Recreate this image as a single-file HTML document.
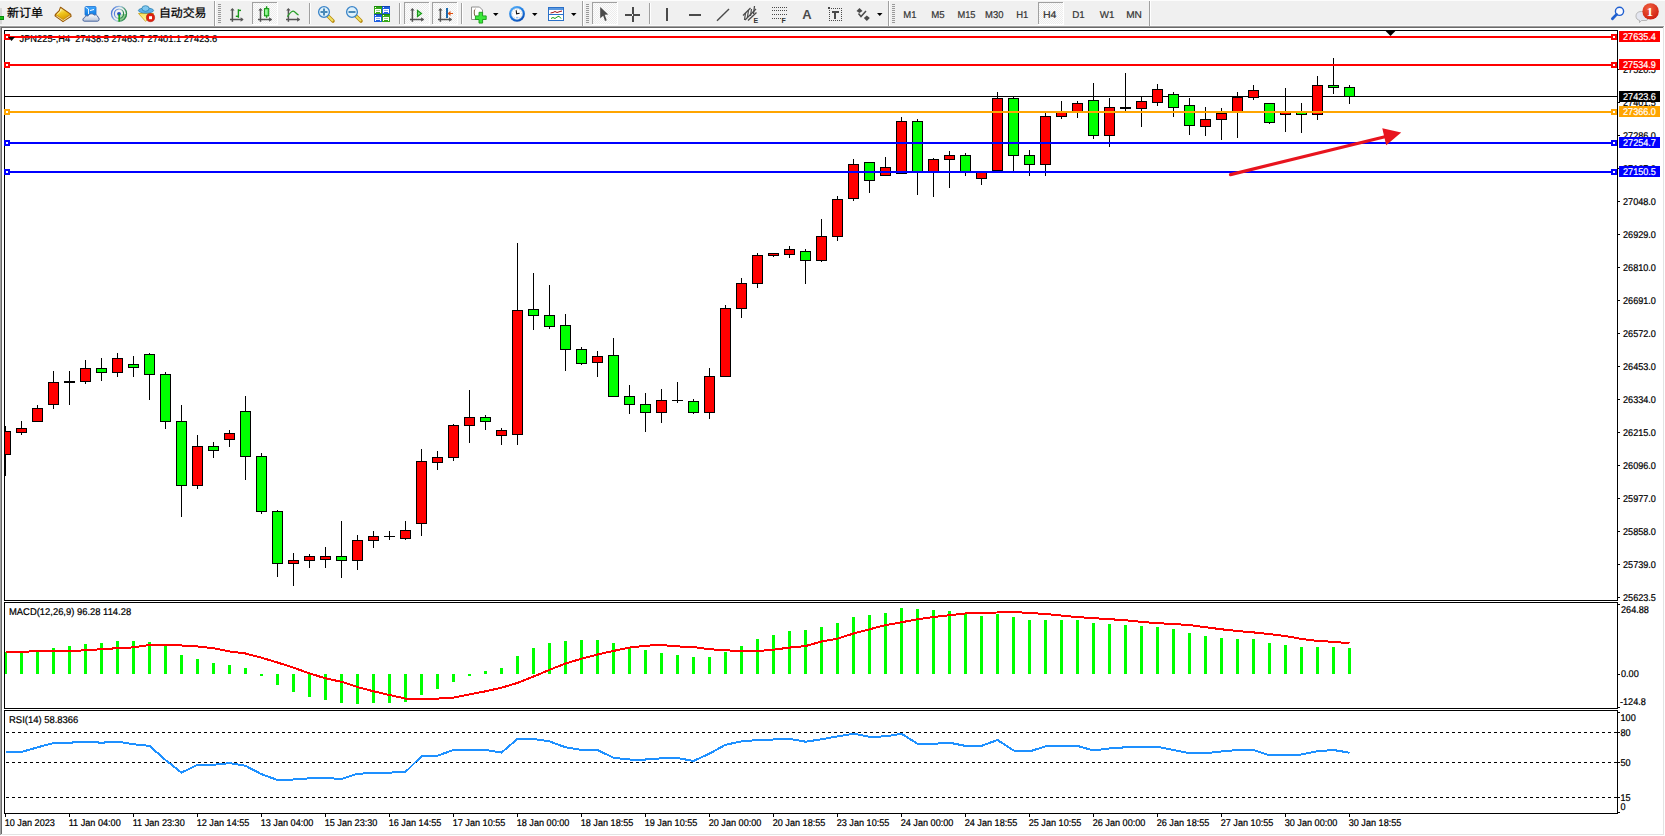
<!DOCTYPE html>
<html><head><meta charset="utf-8"><title>MT4</title>
<style>
html,body{margin:0;padding:0;}
body{width:1665px;height:836px;overflow:hidden;position:relative;background:#fff;}
#c{position:absolute;left:0;top:0;}
</style></head><body>
<svg id="c" width="1665" height="836" viewBox="0 0 1665 836" shape-rendering="crispEdges"><defs><clipPath id="cm"><rect x="5" y="31" width="1612" height="569"/></clipPath><clipPath id="cd"><rect x="5" y="603" width="1612" height="105"/></clipPath><clipPath id="cr"><rect x="5" y="711" width="1612" height="102"/></clipPath></defs><rect x="0" y="26" width="1665" height="810" fill="#fff"/><rect x="0" y="26" width="1664" height="1" fill="#a0a0a0"/><rect x="0" y="26" width="1" height="809" fill="#a0a0a0"/><rect x="1" y="27" width="1662" height="1" fill="#696969"/><rect x="1" y="27" width="1" height="807" fill="#696969"/><rect x="1663" y="27" width="1" height="808" fill="#e3e3e3"/><rect x="1" y="834" width="1663" height="1" fill="#e3e3e3"/><rect x="4.5" y="30.5" width="1613" height="570" fill="none" stroke="#000" stroke-width="1"/><rect x="4.5" y="602.5" width="1613" height="106" fill="none" stroke="#000" stroke-width="1"/><rect x="4.5" y="710.5" width="1613" height="103" fill="none" stroke="#000" stroke-width="1"/><text transform="translate(19.5,41.5) scale(0.948,1)" style="font-family:'Liberation Sans', sans-serif;font-size:9.8px;fill:#000;stroke:#000;stroke-width:0.22px;text-rendering:geometricPrecision" shape-rendering="geometricPrecision">JPN225-,H4&#160; 27438.5 27463.7 27401.1 27423.6</text><g clip-path="url(#cm)"><rect x="5" y="96" width="1612" height="1" fill="#000"/><rect x="5" y="426" width="1" height="50" fill="#000"/><rect x="0.5" y="431.5" width="10" height="23" fill="#ff0000" stroke="#000" stroke-width="1"/><rect x="21" y="421" width="1" height="14" fill="#000"/><rect x="16.5" y="428.5" width="10" height="4" fill="#ff0000" stroke="#000" stroke-width="1"/><rect x="37" y="405" width="1" height="17" fill="#000"/><rect x="32.5" y="408.5" width="10" height="13" fill="#ff0000" stroke="#000" stroke-width="1"/><rect x="53" y="371" width="1" height="38" fill="#000"/><rect x="48.5" y="382.5" width="10" height="22" fill="#ff0000" stroke="#000" stroke-width="1"/><rect x="69" y="371" width="1" height="34" fill="#000"/><rect x="64" y="381" width="11" height="2" fill="#000"/><rect x="85" y="360" width="1" height="24" fill="#000"/><rect x="80.5" y="368.5" width="10" height="13" fill="#ff0000" stroke="#000" stroke-width="1"/><rect x="101" y="358" width="1" height="23" fill="#000"/><rect x="96.5" y="368.5" width="10" height="4" fill="#00ff00" stroke="#000" stroke-width="1"/><rect x="117" y="353" width="1" height="24" fill="#000"/><rect x="112.5" y="358.5" width="10" height="14" fill="#ff0000" stroke="#000" stroke-width="1"/><rect x="133" y="356" width="1" height="21" fill="#000"/><rect x="128.5" y="364.5" width="10" height="3" fill="#00ff00" stroke="#000" stroke-width="1"/><rect x="149" y="353" width="1" height="47" fill="#000"/><rect x="144.5" y="354.5" width="10" height="20" fill="#00ff00" stroke="#000" stroke-width="1"/><rect x="165" y="372" width="1" height="57" fill="#000"/><rect x="160.5" y="374.5" width="10" height="47" fill="#00ff00" stroke="#000" stroke-width="1"/><rect x="181" y="405" width="1" height="112" fill="#000"/><rect x="176.5" y="421.5" width="10" height="64" fill="#00ff00" stroke="#000" stroke-width="1"/><rect x="197" y="435" width="1" height="54" fill="#000"/><rect x="192.5" y="446.5" width="10" height="39" fill="#ff0000" stroke="#000" stroke-width="1"/><rect x="213" y="442" width="1" height="16" fill="#000"/><rect x="208.5" y="446.5" width="10" height="4" fill="#00ff00" stroke="#000" stroke-width="1"/><rect x="229" y="430" width="1" height="17" fill="#000"/><rect x="224.5" y="433.5" width="10" height="6" fill="#ff0000" stroke="#000" stroke-width="1"/><rect x="245" y="396" width="1" height="84" fill="#000"/><rect x="240.5" y="411.5" width="10" height="45" fill="#00ff00" stroke="#000" stroke-width="1"/><rect x="261" y="453" width="1" height="61" fill="#000"/><rect x="256.5" y="456.5" width="10" height="55" fill="#00ff00" stroke="#000" stroke-width="1"/><rect x="277" y="510" width="1" height="67" fill="#000"/><rect x="272.5" y="511.5" width="10" height="52" fill="#00ff00" stroke="#000" stroke-width="1"/><rect x="293" y="553" width="1" height="33" fill="#000"/><rect x="288.5" y="560.5" width="10" height="3" fill="#ff0000" stroke="#000" stroke-width="1"/><rect x="309" y="554" width="1" height="14" fill="#000"/><rect x="304.5" y="556.5" width="10" height="4" fill="#ff0000" stroke="#000" stroke-width="1"/><rect x="325" y="547" width="1" height="21" fill="#000"/><rect x="320.5" y="556.5" width="10" height="3" fill="#ff0000" stroke="#000" stroke-width="1"/><rect x="341" y="521" width="1" height="57" fill="#000"/><rect x="336.5" y="556.5" width="10" height="4" fill="#00ff00" stroke="#000" stroke-width="1"/><rect x="357" y="535" width="1" height="35" fill="#000"/><rect x="352.5" y="540.5" width="10" height="20" fill="#ff0000" stroke="#000" stroke-width="1"/><rect x="373" y="531" width="1" height="17" fill="#000"/><rect x="368.5" y="536.5" width="10" height="4" fill="#ff0000" stroke="#000" stroke-width="1"/><rect x="389" y="531" width="1" height="9" fill="#000"/><rect x="384" y="536" width="11" height="1" fill="#000"/><rect x="405" y="521" width="1" height="19" fill="#000"/><rect x="400.5" y="530.5" width="10" height="8" fill="#ff0000" stroke="#000" stroke-width="1"/><rect x="421" y="449" width="1" height="87" fill="#000"/><rect x="416.5" y="461.5" width="10" height="62" fill="#ff0000" stroke="#000" stroke-width="1"/><rect x="437" y="451" width="1" height="19" fill="#000"/><rect x="432.5" y="457.5" width="10" height="5" fill="#ff0000" stroke="#000" stroke-width="1"/><rect x="453" y="424" width="1" height="37" fill="#000"/><rect x="448.5" y="425.5" width="10" height="32" fill="#ff0000" stroke="#000" stroke-width="1"/><rect x="469" y="390" width="1" height="53" fill="#000"/><rect x="464.5" y="417.5" width="10" height="8" fill="#ff0000" stroke="#000" stroke-width="1"/><rect x="485" y="415" width="1" height="15" fill="#000"/><rect x="480.5" y="417.5" width="10" height="4" fill="#00ff00" stroke="#000" stroke-width="1"/><rect x="501" y="428" width="1" height="17" fill="#000"/><rect x="496.5" y="430.5" width="10" height="5" fill="#ff0000" stroke="#000" stroke-width="1"/><rect x="517" y="243" width="1" height="202" fill="#000"/><rect x="512.5" y="310.5" width="10" height="124" fill="#ff0000" stroke="#000" stroke-width="1"/><rect x="533" y="273" width="1" height="57" fill="#000"/><rect x="528.5" y="309.5" width="10" height="6" fill="#00ff00" stroke="#000" stroke-width="1"/><rect x="549" y="285" width="1" height="44" fill="#000"/><rect x="544.5" y="315.5" width="10" height="11" fill="#00ff00" stroke="#000" stroke-width="1"/><rect x="565" y="314" width="1" height="57" fill="#000"/><rect x="560.5" y="325.5" width="10" height="24" fill="#00ff00" stroke="#000" stroke-width="1"/><rect x="581" y="347" width="1" height="18" fill="#000"/><rect x="576.5" y="349.5" width="10" height="14" fill="#00ff00" stroke="#000" stroke-width="1"/><rect x="597" y="351" width="1" height="26" fill="#000"/><rect x="592.5" y="356.5" width="10" height="6" fill="#ff0000" stroke="#000" stroke-width="1"/><rect x="613" y="338" width="1" height="58" fill="#000"/><rect x="608.5" y="355.5" width="10" height="41" fill="#00ff00" stroke="#000" stroke-width="1"/><rect x="629" y="385" width="1" height="29" fill="#000"/><rect x="624.5" y="396.5" width="10" height="8" fill="#00ff00" stroke="#000" stroke-width="1"/><rect x="645" y="393" width="1" height="39" fill="#000"/><rect x="640.5" y="404.5" width="10" height="8" fill="#00ff00" stroke="#000" stroke-width="1"/><rect x="661" y="389" width="1" height="34" fill="#000"/><rect x="656.5" y="400.5" width="10" height="12" fill="#ff0000" stroke="#000" stroke-width="1"/><rect x="677" y="382" width="1" height="21" fill="#000"/><rect x="672" y="400" width="11" height="1" fill="#000"/><rect x="693" y="399" width="1" height="15" fill="#000"/><rect x="688.5" y="401.5" width="10" height="11" fill="#00ff00" stroke="#000" stroke-width="1"/><rect x="709" y="368" width="1" height="51" fill="#000"/><rect x="704.5" y="376.5" width="10" height="36" fill="#ff0000" stroke="#000" stroke-width="1"/><rect x="725" y="305" width="1" height="71" fill="#000"/><rect x="720.5" y="308.5" width="10" height="68" fill="#ff0000" stroke="#000" stroke-width="1"/><rect x="741" y="278" width="1" height="40" fill="#000"/><rect x="736.5" y="283.5" width="10" height="25" fill="#ff0000" stroke="#000" stroke-width="1"/><rect x="757" y="253" width="1" height="35" fill="#000"/><rect x="752.5" y="255.5" width="10" height="28" fill="#ff0000" stroke="#000" stroke-width="1"/><rect x="773" y="253" width="1" height="4" fill="#000"/><rect x="768.5" y="253.5" width="10" height="2" fill="#ff0000" stroke="#000" stroke-width="1"/><rect x="789" y="246" width="1" height="12" fill="#000"/><rect x="784.5" y="249.5" width="10" height="5" fill="#ff0000" stroke="#000" stroke-width="1"/><rect x="805" y="249" width="1" height="35" fill="#000"/><rect x="800.5" y="251.5" width="10" height="9" fill="#00ff00" stroke="#000" stroke-width="1"/><rect x="821" y="219" width="1" height="43" fill="#000"/><rect x="816.5" y="236.5" width="10" height="24" fill="#ff0000" stroke="#000" stroke-width="1"/><rect x="837" y="196" width="1" height="45" fill="#000"/><rect x="832.5" y="199.5" width="10" height="37" fill="#ff0000" stroke="#000" stroke-width="1"/><rect x="853" y="159" width="1" height="42" fill="#000"/><rect x="848.5" y="164.5" width="10" height="34" fill="#ff0000" stroke="#000" stroke-width="1"/><rect x="869" y="162" width="1" height="31" fill="#000"/><rect x="864.5" y="162.5" width="10" height="18" fill="#00ff00" stroke="#000" stroke-width="1"/><rect x="885" y="157" width="1" height="18" fill="#000"/><rect x="880.5" y="167.5" width="10" height="8" fill="#ff0000" stroke="#000" stroke-width="1"/><rect x="901" y="117" width="1" height="56" fill="#000"/><rect x="896.5" y="121.5" width="10" height="52" fill="#ff0000" stroke="#000" stroke-width="1"/><rect x="917" y="119" width="1" height="76" fill="#000"/><rect x="912.5" y="121.5" width="10" height="50" fill="#00ff00" stroke="#000" stroke-width="1"/><rect x="933" y="158" width="1" height="39" fill="#000"/><rect x="928.5" y="159.5" width="10" height="12" fill="#ff0000" stroke="#000" stroke-width="1"/><rect x="949" y="151" width="1" height="37" fill="#000"/><rect x="944.5" y="155.5" width="10" height="4" fill="#ff0000" stroke="#000" stroke-width="1"/><rect x="965" y="153" width="1" height="23" fill="#000"/><rect x="960.5" y="155.5" width="10" height="16" fill="#00ff00" stroke="#000" stroke-width="1"/><rect x="981" y="172" width="1" height="13" fill="#000"/><rect x="976.5" y="172.5" width="10" height="6" fill="#ff0000" stroke="#000" stroke-width="1"/><rect x="997" y="92" width="1" height="78" fill="#000"/><rect x="992.5" y="98.5" width="10" height="72" fill="#ff0000" stroke="#000" stroke-width="1"/><rect x="1013" y="97" width="1" height="74" fill="#000"/><rect x="1008.5" y="98.5" width="10" height="57" fill="#00ff00" stroke="#000" stroke-width="1"/><rect x="1029" y="150" width="1" height="26" fill="#000"/><rect x="1024.5" y="155.5" width="10" height="9" fill="#00ff00" stroke="#000" stroke-width="1"/><rect x="1045" y="113" width="1" height="63" fill="#000"/><rect x="1040.5" y="116.5" width="10" height="48" fill="#ff0000" stroke="#000" stroke-width="1"/><rect x="1061" y="101" width="1" height="18" fill="#000"/><rect x="1056.5" y="112.5" width="10" height="4" fill="#ff0000" stroke="#000" stroke-width="1"/><rect x="1077" y="101" width="1" height="17" fill="#000"/><rect x="1072.5" y="103.5" width="10" height="8" fill="#ff0000" stroke="#000" stroke-width="1"/><rect x="1093" y="83" width="1" height="56" fill="#000"/><rect x="1088.5" y="100.5" width="10" height="35" fill="#00ff00" stroke="#000" stroke-width="1"/><rect x="1109" y="98" width="1" height="49" fill="#000"/><rect x="1104.5" y="107.5" width="10" height="28" fill="#ff0000" stroke="#000" stroke-width="1"/><rect x="1125" y="73" width="1" height="38" fill="#000"/><rect x="1120" y="107" width="11" height="2" fill="#000"/><rect x="1141" y="97" width="1" height="30" fill="#000"/><rect x="1136.5" y="101.5" width="10" height="7" fill="#ff0000" stroke="#000" stroke-width="1"/><rect x="1157" y="84" width="1" height="22" fill="#000"/><rect x="1152.5" y="89.5" width="10" height="13" fill="#ff0000" stroke="#000" stroke-width="1"/><rect x="1173" y="92" width="1" height="25" fill="#000"/><rect x="1168.5" y="94.5" width="10" height="13" fill="#00ff00" stroke="#000" stroke-width="1"/><rect x="1189" y="98" width="1" height="37" fill="#000"/><rect x="1184.5" y="105.5" width="10" height="20" fill="#00ff00" stroke="#000" stroke-width="1"/><rect x="1205" y="107" width="1" height="29" fill="#000"/><rect x="1200.5" y="119.5" width="10" height="7" fill="#ff0000" stroke="#000" stroke-width="1"/><rect x="1221" y="108" width="1" height="32" fill="#000"/><rect x="1216.5" y="113.5" width="10" height="6" fill="#ff0000" stroke="#000" stroke-width="1"/><rect x="1237" y="92" width="1" height="46" fill="#000"/><rect x="1232.5" y="97.5" width="10" height="14" fill="#ff0000" stroke="#000" stroke-width="1"/><rect x="1253" y="85" width="1" height="15" fill="#000"/><rect x="1248.5" y="90.5" width="10" height="7" fill="#ff0000" stroke="#000" stroke-width="1"/><rect x="1269" y="103" width="1" height="21" fill="#000"/><rect x="1264.5" y="103.5" width="10" height="19" fill="#00ff00" stroke="#000" stroke-width="1"/><rect x="1285" y="88" width="1" height="44" fill="#000"/><rect x="1280.5" y="112.5" width="10" height="2" fill="#ff0000" stroke="#000" stroke-width="1"/><rect x="1301" y="103" width="1" height="30" fill="#000"/><rect x="1296.5" y="112.5" width="10" height="2" fill="#00ff00" stroke="#000" stroke-width="1"/><rect x="1317" y="76" width="1" height="44" fill="#000"/><rect x="1312.5" y="85.5" width="10" height="29" fill="#ff0000" stroke="#000" stroke-width="1"/><rect x="1333" y="58" width="1" height="36" fill="#000"/><rect x="1328.5" y="85.5" width="10" height="2" fill="#00ff00" stroke="#000" stroke-width="1"/><rect x="1349" y="85" width="1" height="19" fill="#000"/><rect x="1344.5" y="87.5" width="10" height="9" fill="#00ff00" stroke="#000" stroke-width="1"/><rect x="5" y="36" width="1612" height="2" fill="#ff0000"/><rect x="5" y="64" width="1612" height="2" fill="#ff0000"/><rect x="5" y="111" width="1612" height="2" fill="#ffa500"/><rect x="5" y="142" width="1612" height="2" fill="#0000ff"/><rect x="5" y="171" width="1612" height="2" fill="#0000ff"/></g><rect x="4" y="34" width="6" height="6" fill="#ff0000"/><rect x="6" y="36" width="2" height="2" fill="#fff"/><rect x="1611" y="34" width="6" height="6" fill="#ff0000"/><rect x="1613" y="36" width="2" height="2" fill="#fff"/><rect x="4" y="62" width="6" height="6" fill="#ff0000"/><rect x="6" y="64" width="2" height="2" fill="#fff"/><rect x="1611" y="62" width="6" height="6" fill="#ff0000"/><rect x="1613" y="64" width="2" height="2" fill="#fff"/><rect x="4" y="109" width="6" height="6" fill="#ffa500"/><rect x="6" y="111" width="2" height="2" fill="#fff"/><rect x="1611" y="109" width="6" height="6" fill="#ffa500"/><rect x="1613" y="111" width="2" height="2" fill="#fff"/><rect x="4" y="140" width="6" height="6" fill="#0000ff"/><rect x="6" y="142" width="2" height="2" fill="#fff"/><rect x="1611" y="140" width="6" height="6" fill="#0000ff"/><rect x="1613" y="142" width="2" height="2" fill="#fff"/><rect x="4" y="169" width="6" height="6" fill="#0000ff"/><rect x="6" y="171" width="2" height="2" fill="#fff"/><rect x="1611" y="169" width="6" height="6" fill="#0000ff"/><rect x="1613" y="171" width="2" height="2" fill="#fff"/><g shape-rendering="geometricPrecision"><line x1="1230.5" y1="174.6" x2="1388" y2="136" stroke="#e8141e" stroke-width="3.2" stroke-linecap="round"/><polygon points="1382.3,128.3 1401.2,132.5 1386.2,145.2" fill="#e8141e"/></g><polygon points="1385.6,31 1395.4,31 1390.5,36" fill="#000" shape-rendering="geometricPrecision"/><polygon points="8,37 15,37 11.5,41" fill="#000" shape-rendering="geometricPrecision"/><g clip-path="url(#cd)"><rect x="4" y="652" width="3" height="22" fill="#00ff00"/><rect x="20" y="653" width="3" height="21" fill="#00ff00"/><rect x="36" y="652" width="3" height="22" fill="#00ff00"/><rect x="52" y="648" width="3" height="26" fill="#00ff00"/><rect x="68" y="646" width="3" height="28" fill="#00ff00"/><rect x="84" y="644" width="3" height="30" fill="#00ff00"/><rect x="100" y="643" width="3" height="31" fill="#00ff00"/><rect x="116" y="641" width="3" height="33" fill="#00ff00"/><rect x="132" y="641" width="3" height="33" fill="#00ff00"/><rect x="148" y="642" width="3" height="32" fill="#00ff00"/><rect x="164" y="646" width="3" height="28" fill="#00ff00"/><rect x="180" y="655" width="3" height="19" fill="#00ff00"/><rect x="196" y="659" width="3" height="15" fill="#00ff00"/><rect x="212" y="663" width="3" height="11" fill="#00ff00"/><rect x="228" y="665" width="3" height="9" fill="#00ff00"/><rect x="244" y="668" width="3" height="6" fill="#00ff00"/><rect x="260" y="674" width="3" height="2" fill="#00ff00"/><rect x="276" y="674" width="3" height="11" fill="#00ff00"/><rect x="292" y="674" width="3" height="18" fill="#00ff00"/><rect x="308" y="674" width="3" height="23" fill="#00ff00"/><rect x="324" y="674" width="3" height="26" fill="#00ff00"/><rect x="340" y="674" width="3" height="29" fill="#00ff00"/><rect x="356" y="674" width="3" height="30" fill="#00ff00"/><rect x="372" y="674" width="3" height="29" fill="#00ff00"/><rect x="388" y="674" width="3" height="29" fill="#00ff00"/><rect x="404" y="674" width="3" height="28" fill="#00ff00"/><rect x="420" y="674" width="3" height="21" fill="#00ff00"/><rect x="436" y="674" width="3" height="15" fill="#00ff00"/><rect x="452" y="674" width="3" height="8" fill="#00ff00"/><rect x="468" y="674" width="3" height="2" fill="#00ff00"/><rect x="484" y="671" width="3" height="3" fill="#00ff00"/><rect x="500" y="668" width="3" height="6" fill="#00ff00"/><rect x="516" y="656" width="3" height="18" fill="#00ff00"/><rect x="532" y="648" width="3" height="26" fill="#00ff00"/><rect x="548" y="643" width="3" height="31" fill="#00ff00"/><rect x="564" y="641" width="3" height="33" fill="#00ff00"/><rect x="580" y="640" width="3" height="34" fill="#00ff00"/><rect x="596" y="640" width="3" height="34" fill="#00ff00"/><rect x="612" y="643" width="3" height="31" fill="#00ff00"/><rect x="628" y="648" width="3" height="26" fill="#00ff00"/><rect x="644" y="650" width="3" height="24" fill="#00ff00"/><rect x="660" y="653" width="3" height="21" fill="#00ff00"/><rect x="676" y="655" width="3" height="19" fill="#00ff00"/><rect x="692" y="657" width="3" height="17" fill="#00ff00"/><rect x="708" y="657" width="3" height="17" fill="#00ff00"/><rect x="724" y="652" width="3" height="22" fill="#00ff00"/><rect x="740" y="646" width="3" height="28" fill="#00ff00"/><rect x="756" y="639" width="3" height="35" fill="#00ff00"/><rect x="772" y="635" width="3" height="39" fill="#00ff00"/><rect x="788" y="631" width="3" height="43" fill="#00ff00"/><rect x="804" y="630" width="3" height="44" fill="#00ff00"/><rect x="820" y="627" width="3" height="47" fill="#00ff00"/><rect x="836" y="623" width="3" height="51" fill="#00ff00"/><rect x="852" y="617" width="3" height="57" fill="#00ff00"/><rect x="868" y="615" width="3" height="59" fill="#00ff00"/><rect x="884" y="613" width="3" height="61" fill="#00ff00"/><rect x="900" y="608" width="3" height="66" fill="#00ff00"/><rect x="916" y="609" width="3" height="65" fill="#00ff00"/><rect x="932" y="610" width="3" height="64" fill="#00ff00"/><rect x="948" y="611" width="3" height="63" fill="#00ff00"/><rect x="964" y="614" width="3" height="60" fill="#00ff00"/><rect x="980" y="616" width="3" height="58" fill="#00ff00"/><rect x="996" y="614" width="3" height="60" fill="#00ff00"/><rect x="1012" y="617" width="3" height="57" fill="#00ff00"/><rect x="1028" y="620" width="3" height="54" fill="#00ff00"/><rect x="1044" y="620" width="3" height="54" fill="#00ff00"/><rect x="1060" y="620" width="3" height="54" fill="#00ff00"/><rect x="1076" y="620" width="3" height="54" fill="#00ff00"/><rect x="1092" y="623" width="3" height="51" fill="#00ff00"/><rect x="1108" y="624" width="3" height="50" fill="#00ff00"/><rect x="1124" y="625" width="3" height="49" fill="#00ff00"/><rect x="1140" y="626" width="3" height="48" fill="#00ff00"/><rect x="1156" y="627" width="3" height="47" fill="#00ff00"/><rect x="1172" y="629" width="3" height="45" fill="#00ff00"/><rect x="1188" y="633" width="3" height="41" fill="#00ff00"/><rect x="1204" y="636" width="3" height="38" fill="#00ff00"/><rect x="1220" y="638" width="3" height="36" fill="#00ff00"/><rect x="1236" y="639" width="3" height="35" fill="#00ff00"/><rect x="1252" y="639" width="3" height="35" fill="#00ff00"/><rect x="1268" y="643" width="3" height="31" fill="#00ff00"/><rect x="1284" y="645" width="3" height="29" fill="#00ff00"/><rect x="1300" y="647" width="3" height="27" fill="#00ff00"/><rect x="1316" y="647" width="3" height="27" fill="#00ff00"/><rect x="1332" y="647" width="3" height="27" fill="#00ff00"/><rect x="1348" y="648" width="3" height="26" fill="#00ff00"/><polyline points="5.5,652 21.5,652 37.5,651 53.5,651 69.5,651 85.5,650.3 101.5,649.2 117.5,648.2 133.5,647.4 149.5,645 165.5,645 181.5,645.5 197.5,646.5 213.5,648.2 229.5,651.4 245.5,653.5 261.5,657.7 277.5,662.5 293.5,667.7 309.5,673.4 325.5,678.3 341.5,681.8 357.5,687 373.5,691.3 389.5,695 405.5,698.6 421.5,698.6 437.5,698.6 453.5,697.6 469.5,694.4 485.5,691.3 501.5,687.7 517.5,682.9 533.5,676.6 549.5,669.8 565.5,663.5 581.5,658.7 597.5,654.5 613.5,650.9 629.5,647.6 645.5,645.7 661.5,645 677.5,646.4 693.5,647.1 709.5,649.2 725.5,650.3 741.5,651 757.5,651 773.5,649.7 789.5,647.6 805.5,646.1 821.5,641.5 837.5,638.7 853.5,633.5 869.5,629.3 885.5,625.1 901.5,622.3 917.5,619.2 933.5,617.1 949.5,615.2 965.5,613.5 981.5,612.7 997.5,612.5 1013.5,611.8 1029.5,613.1 1045.5,613.9 1061.5,615.6 1077.5,617.1 1093.5,618.1 1109.5,619.2 1125.5,620.2 1141.5,621.9 1157.5,623.2 1173.5,624 1189.5,625.1 1205.5,627.2 1221.5,629.3 1237.5,631 1253.5,632.4 1269.5,634.1 1285.5,636 1301.5,638.9 1317.5,641 1333.5,641.8 1349.5,643.4" fill="none" stroke="#ff0000" stroke-width="2" stroke-linejoin="round"/></g><g clip-path="url(#cr)"><line x1="6" y1="732.5" x2="1617" y2="732.5" stroke="#000" stroke-width="1" stroke-dasharray="3,3"/><line x1="6" y1="762.5" x2="1617" y2="762.5" stroke="#000" stroke-width="1" stroke-dasharray="3,3"/><line x1="6" y1="797.5" x2="1617" y2="797.5" stroke="#000" stroke-width="1" stroke-dasharray="3,3"/><polyline points="5.5,752 21.5,752 37.5,747.3 53.5,743.1 69.5,742.7 85.5,741.7 101.5,742.7 117.5,741.7 133.5,744.2 149.5,745.9 165.5,760 181.5,772.6 197.5,764.8 213.5,764.8 229.5,763.1 245.5,765.8 261.5,774.2 277.5,780 293.5,779.5 309.5,778.3 325.5,778 341.5,779 357.5,773.8 373.5,773 389.5,772.6 405.5,771.9 421.5,756.2 437.5,755.7 453.5,750 469.5,749.9 485.5,750 501.5,752.6 517.5,738.9 533.5,738.9 549.5,741.4 565.5,747.3 581.5,749.9 597.5,750 613.5,757.8 629.5,759.5 645.5,759.5 661.5,758.3 677.5,758 693.5,761 709.5,753.6 725.5,744.8 741.5,741.4 757.5,740 773.5,739.5 789.5,738.9 805.5,741.7 821.5,739.3 837.5,736.4 853.5,733.7 869.5,736.8 885.5,736.4 901.5,733.7 917.5,743.8 933.5,743.8 949.5,742.7 965.5,745.9 981.5,745.9 997.5,740 1013.5,750.5 1029.5,751.5 1045.5,746.3 1061.5,745.9 1077.5,745.9 1093.5,750.5 1109.5,748.4 1125.5,747.3 1141.5,747.3 1157.5,746.7 1173.5,750 1189.5,753.2 1205.5,753.2 1221.5,751.5 1237.5,750 1253.5,750 1269.5,755.3 1285.5,755.3 1301.5,754.5 1317.5,751.2 1333.5,750 1349.5,752.7" fill="none" stroke="#1e90ff" stroke-width="2" stroke-linejoin="round"/></g><rect x="1618" y="69" width="2" height="1" fill="#000"/><text transform="translate(1623,72.6) scale(0.93,1)" style="font-family:'Liberation Sans', sans-serif;font-size:9.8px;fill:#000;stroke:#000;stroke-width:0.22px;text-rendering:geometricPrecision" shape-rendering="geometricPrecision">27520.5</text><rect x="1618" y="102" width="2" height="1" fill="#000"/><text transform="translate(1623,105.6) scale(0.93,1)" style="font-family:'Liberation Sans', sans-serif;font-size:9.8px;fill:#000;stroke:#000;stroke-width:0.22px;text-rendering:geometricPrecision" shape-rendering="geometricPrecision">27401.5</text><rect x="1618" y="135" width="2" height="1" fill="#000"/><text transform="translate(1623,138.6) scale(0.93,1)" style="font-family:'Liberation Sans', sans-serif;font-size:9.8px;fill:#000;stroke:#000;stroke-width:0.22px;text-rendering:geometricPrecision" shape-rendering="geometricPrecision">27286.0</text><rect x="1618" y="168" width="2" height="1" fill="#000"/><text transform="translate(1623,171.6) scale(0.93,1)" style="font-family:'Liberation Sans', sans-serif;font-size:9.8px;fill:#000;stroke:#000;stroke-width:0.22px;text-rendering:geometricPrecision" shape-rendering="geometricPrecision">27167.0</text><rect x="1618" y="201" width="2" height="1" fill="#000"/><text transform="translate(1623,204.6) scale(0.93,1)" style="font-family:'Liberation Sans', sans-serif;font-size:9.8px;fill:#000;stroke:#000;stroke-width:0.22px;text-rendering:geometricPrecision" shape-rendering="geometricPrecision">27048.0</text><rect x="1618" y="234" width="2" height="1" fill="#000"/><text transform="translate(1623,237.6) scale(0.93,1)" style="font-family:'Liberation Sans', sans-serif;font-size:9.8px;fill:#000;stroke:#000;stroke-width:0.22px;text-rendering:geometricPrecision" shape-rendering="geometricPrecision">26929.0</text><rect x="1618" y="267" width="2" height="1" fill="#000"/><text transform="translate(1623,270.6) scale(0.93,1)" style="font-family:'Liberation Sans', sans-serif;font-size:9.8px;fill:#000;stroke:#000;stroke-width:0.22px;text-rendering:geometricPrecision" shape-rendering="geometricPrecision">26810.0</text><rect x="1618" y="300" width="2" height="1" fill="#000"/><text transform="translate(1623,303.6) scale(0.93,1)" style="font-family:'Liberation Sans', sans-serif;font-size:9.8px;fill:#000;stroke:#000;stroke-width:0.22px;text-rendering:geometricPrecision" shape-rendering="geometricPrecision">26691.0</text><rect x="1618" y="333" width="2" height="1" fill="#000"/><text transform="translate(1623,336.6) scale(0.93,1)" style="font-family:'Liberation Sans', sans-serif;font-size:9.8px;fill:#000;stroke:#000;stroke-width:0.22px;text-rendering:geometricPrecision" shape-rendering="geometricPrecision">26572.0</text><rect x="1618" y="366" width="2" height="1" fill="#000"/><text transform="translate(1623,369.6) scale(0.93,1)" style="font-family:'Liberation Sans', sans-serif;font-size:9.8px;fill:#000;stroke:#000;stroke-width:0.22px;text-rendering:geometricPrecision" shape-rendering="geometricPrecision">26453.0</text><rect x="1618" y="399" width="2" height="1" fill="#000"/><text transform="translate(1623,402.6) scale(0.93,1)" style="font-family:'Liberation Sans', sans-serif;font-size:9.8px;fill:#000;stroke:#000;stroke-width:0.22px;text-rendering:geometricPrecision" shape-rendering="geometricPrecision">26334.0</text><rect x="1618" y="432" width="2" height="1" fill="#000"/><text transform="translate(1623,435.6) scale(0.93,1)" style="font-family:'Liberation Sans', sans-serif;font-size:9.8px;fill:#000;stroke:#000;stroke-width:0.22px;text-rendering:geometricPrecision" shape-rendering="geometricPrecision">26215.0</text><rect x="1618" y="465" width="2" height="1" fill="#000"/><text transform="translate(1623,468.6) scale(0.93,1)" style="font-family:'Liberation Sans', sans-serif;font-size:9.8px;fill:#000;stroke:#000;stroke-width:0.22px;text-rendering:geometricPrecision" shape-rendering="geometricPrecision">26096.0</text><rect x="1618" y="498" width="2" height="1" fill="#000"/><text transform="translate(1623,501.6) scale(0.93,1)" style="font-family:'Liberation Sans', sans-serif;font-size:9.8px;fill:#000;stroke:#000;stroke-width:0.22px;text-rendering:geometricPrecision" shape-rendering="geometricPrecision">25977.0</text><rect x="1618" y="531" width="2" height="1" fill="#000"/><text transform="translate(1623,534.6) scale(0.93,1)" style="font-family:'Liberation Sans', sans-serif;font-size:9.8px;fill:#000;stroke:#000;stroke-width:0.22px;text-rendering:geometricPrecision" shape-rendering="geometricPrecision">25858.0</text><rect x="1618" y="564" width="2" height="1" fill="#000"/><text transform="translate(1623,567.6) scale(0.93,1)" style="font-family:'Liberation Sans', sans-serif;font-size:9.8px;fill:#000;stroke:#000;stroke-width:0.22px;text-rendering:geometricPrecision" shape-rendering="geometricPrecision">25739.0</text><rect x="1618" y="597" width="2" height="1" fill="#000"/><text transform="translate(1623,600.6) scale(0.93,1)" style="font-family:'Liberation Sans', sans-serif;font-size:9.8px;fill:#000;stroke:#000;stroke-width:0.22px;text-rendering:geometricPrecision" shape-rendering="geometricPrecision">25623.5</text><rect x="1618" y="604" width="2" height="1" fill="#000"/><text transform="translate(1621,613) scale(0.93,1)" style="font-family:'Liberation Sans', sans-serif;font-size:9.8px;fill:#000;stroke:#000;stroke-width:0.22px;text-rendering:geometricPrecision" shape-rendering="geometricPrecision">264.88</text><rect x="1618" y="674" width="2" height="1" fill="#000"/><text transform="translate(1621,677.3) scale(0.93,1)" style="font-family:'Liberation Sans', sans-serif;font-size:9.8px;fill:#000;stroke:#000;stroke-width:0.22px;text-rendering:geometricPrecision" shape-rendering="geometricPrecision">0.00</text><rect x="1618" y="707" width="2" height="1" fill="#000"/><text transform="translate(1620,705) scale(0.93,1)" style="font-family:'Liberation Sans', sans-serif;font-size:9.8px;fill:#000;stroke:#000;stroke-width:0.22px;text-rendering:geometricPrecision" shape-rendering="geometricPrecision">-124.8</text><rect x="1618" y="712" width="2" height="1" fill="#000"/><text transform="translate(1620.5,721) scale(0.93,1)" style="font-family:'Liberation Sans', sans-serif;font-size:9.8px;fill:#000;stroke:#000;stroke-width:0.22px;text-rendering:geometricPrecision" shape-rendering="geometricPrecision">100</text><rect x="1618" y="732" width="2" height="1" fill="#000"/><text transform="translate(1620.5,735.5) scale(0.93,1)" style="font-family:'Liberation Sans', sans-serif;font-size:9.8px;fill:#000;stroke:#000;stroke-width:0.22px;text-rendering:geometricPrecision" shape-rendering="geometricPrecision">80</text><rect x="1618" y="762" width="2" height="1" fill="#000"/><text transform="translate(1620.5,765.7) scale(0.93,1)" style="font-family:'Liberation Sans', sans-serif;font-size:9.8px;fill:#000;stroke:#000;stroke-width:0.22px;text-rendering:geometricPrecision" shape-rendering="geometricPrecision">50</text><rect x="1618" y="797" width="2" height="1" fill="#000"/><text transform="translate(1620.5,800.5) scale(0.93,1)" style="font-family:'Liberation Sans', sans-serif;font-size:9.8px;fill:#000;stroke:#000;stroke-width:0.22px;text-rendering:geometricPrecision" shape-rendering="geometricPrecision">15</text><rect x="1618" y="812" width="2" height="1" fill="#000"/><text transform="translate(1620.5,810.3) scale(0.93,1)" style="font-family:'Liberation Sans', sans-serif;font-size:9.8px;fill:#000;stroke:#000;stroke-width:0.22px;text-rendering:geometricPrecision" shape-rendering="geometricPrecision">0</text><rect x="5" y="814" width="1" height="3" fill="#000"/><text transform="translate(4.7,826) scale(0.93,1)" style="font-family:'Liberation Sans', sans-serif;font-size:9.8px;fill:#000;stroke:#000;stroke-width:0.22px;text-rendering:geometricPrecision" shape-rendering="geometricPrecision">10 Jan 2023</text><rect x="69" y="814" width="1" height="3" fill="#000"/><text transform="translate(68.7,826) scale(0.93,1)" style="font-family:'Liberation Sans', sans-serif;font-size:9.8px;fill:#000;stroke:#000;stroke-width:0.22px;text-rendering:geometricPrecision" shape-rendering="geometricPrecision">11 Jan 04:00</text><rect x="133" y="814" width="1" height="3" fill="#000"/><text transform="translate(132.7,826) scale(0.93,1)" style="font-family:'Liberation Sans', sans-serif;font-size:9.8px;fill:#000;stroke:#000;stroke-width:0.22px;text-rendering:geometricPrecision" shape-rendering="geometricPrecision">11 Jan 23:30</text><rect x="197" y="814" width="1" height="3" fill="#000"/><text transform="translate(196.7,826) scale(0.93,1)" style="font-family:'Liberation Sans', sans-serif;font-size:9.8px;fill:#000;stroke:#000;stroke-width:0.22px;text-rendering:geometricPrecision" shape-rendering="geometricPrecision">12 Jan 14:55</text><rect x="261" y="814" width="1" height="3" fill="#000"/><text transform="translate(260.7,826) scale(0.93,1)" style="font-family:'Liberation Sans', sans-serif;font-size:9.8px;fill:#000;stroke:#000;stroke-width:0.22px;text-rendering:geometricPrecision" shape-rendering="geometricPrecision">13 Jan 04:00</text><rect x="325" y="814" width="1" height="3" fill="#000"/><text transform="translate(324.7,826) scale(0.93,1)" style="font-family:'Liberation Sans', sans-serif;font-size:9.8px;fill:#000;stroke:#000;stroke-width:0.22px;text-rendering:geometricPrecision" shape-rendering="geometricPrecision">15 Jan 23:30</text><rect x="389" y="814" width="1" height="3" fill="#000"/><text transform="translate(388.7,826) scale(0.93,1)" style="font-family:'Liberation Sans', sans-serif;font-size:9.8px;fill:#000;stroke:#000;stroke-width:0.22px;text-rendering:geometricPrecision" shape-rendering="geometricPrecision">16 Jan 14:55</text><rect x="453" y="814" width="1" height="3" fill="#000"/><text transform="translate(452.7,826) scale(0.93,1)" style="font-family:'Liberation Sans', sans-serif;font-size:9.8px;fill:#000;stroke:#000;stroke-width:0.22px;text-rendering:geometricPrecision" shape-rendering="geometricPrecision">17 Jan 10:55</text><rect x="517" y="814" width="1" height="3" fill="#000"/><text transform="translate(516.7,826) scale(0.93,1)" style="font-family:'Liberation Sans', sans-serif;font-size:9.8px;fill:#000;stroke:#000;stroke-width:0.22px;text-rendering:geometricPrecision" shape-rendering="geometricPrecision">18 Jan 00:00</text><rect x="581" y="814" width="1" height="3" fill="#000"/><text transform="translate(580.7,826) scale(0.93,1)" style="font-family:'Liberation Sans', sans-serif;font-size:9.8px;fill:#000;stroke:#000;stroke-width:0.22px;text-rendering:geometricPrecision" shape-rendering="geometricPrecision">18 Jan 18:55</text><rect x="645" y="814" width="1" height="3" fill="#000"/><text transform="translate(644.7,826) scale(0.93,1)" style="font-family:'Liberation Sans', sans-serif;font-size:9.8px;fill:#000;stroke:#000;stroke-width:0.22px;text-rendering:geometricPrecision" shape-rendering="geometricPrecision">19 Jan 10:55</text><rect x="709" y="814" width="1" height="3" fill="#000"/><text transform="translate(708.7,826) scale(0.93,1)" style="font-family:'Liberation Sans', sans-serif;font-size:9.8px;fill:#000;stroke:#000;stroke-width:0.22px;text-rendering:geometricPrecision" shape-rendering="geometricPrecision">20 Jan 00:00</text><rect x="773" y="814" width="1" height="3" fill="#000"/><text transform="translate(772.7,826) scale(0.93,1)" style="font-family:'Liberation Sans', sans-serif;font-size:9.8px;fill:#000;stroke:#000;stroke-width:0.22px;text-rendering:geometricPrecision" shape-rendering="geometricPrecision">20 Jan 18:55</text><rect x="837" y="814" width="1" height="3" fill="#000"/><text transform="translate(836.7,826) scale(0.93,1)" style="font-family:'Liberation Sans', sans-serif;font-size:9.8px;fill:#000;stroke:#000;stroke-width:0.22px;text-rendering:geometricPrecision" shape-rendering="geometricPrecision">23 Jan 10:55</text><rect x="901" y="814" width="1" height="3" fill="#000"/><text transform="translate(900.7,826) scale(0.93,1)" style="font-family:'Liberation Sans', sans-serif;font-size:9.8px;fill:#000;stroke:#000;stroke-width:0.22px;text-rendering:geometricPrecision" shape-rendering="geometricPrecision">24 Jan 00:00</text><rect x="965" y="814" width="1" height="3" fill="#000"/><text transform="translate(964.7,826) scale(0.93,1)" style="font-family:'Liberation Sans', sans-serif;font-size:9.8px;fill:#000;stroke:#000;stroke-width:0.22px;text-rendering:geometricPrecision" shape-rendering="geometricPrecision">24 Jan 18:55</text><rect x="1029" y="814" width="1" height="3" fill="#000"/><text transform="translate(1028.7,826) scale(0.93,1)" style="font-family:'Liberation Sans', sans-serif;font-size:9.8px;fill:#000;stroke:#000;stroke-width:0.22px;text-rendering:geometricPrecision" shape-rendering="geometricPrecision">25 Jan 10:55</text><rect x="1093" y="814" width="1" height="3" fill="#000"/><text transform="translate(1092.7,826) scale(0.93,1)" style="font-family:'Liberation Sans', sans-serif;font-size:9.8px;fill:#000;stroke:#000;stroke-width:0.22px;text-rendering:geometricPrecision" shape-rendering="geometricPrecision">26 Jan 00:00</text><rect x="1157" y="814" width="1" height="3" fill="#000"/><text transform="translate(1156.7,826) scale(0.93,1)" style="font-family:'Liberation Sans', sans-serif;font-size:9.8px;fill:#000;stroke:#000;stroke-width:0.22px;text-rendering:geometricPrecision" shape-rendering="geometricPrecision">26 Jan 18:55</text><rect x="1221" y="814" width="1" height="3" fill="#000"/><text transform="translate(1220.7,826) scale(0.93,1)" style="font-family:'Liberation Sans', sans-serif;font-size:9.8px;fill:#000;stroke:#000;stroke-width:0.22px;text-rendering:geometricPrecision" shape-rendering="geometricPrecision">27 Jan 10:55</text><rect x="1285" y="814" width="1" height="3" fill="#000"/><text transform="translate(1284.7,826) scale(0.93,1)" style="font-family:'Liberation Sans', sans-serif;font-size:9.8px;fill:#000;stroke:#000;stroke-width:0.22px;text-rendering:geometricPrecision" shape-rendering="geometricPrecision">30 Jan 00:00</text><rect x="1349" y="814" width="1" height="3" fill="#000"/><text transform="translate(1348.7,826) scale(0.93,1)" style="font-family:'Liberation Sans', sans-serif;font-size:9.8px;fill:#000;stroke:#000;stroke-width:0.22px;text-rendering:geometricPrecision" shape-rendering="geometricPrecision">30 Jan 18:55</text><text transform="translate(9,615) scale(0.96,1)" style="font-family:'Liberation Sans', sans-serif;font-size:9.8px;fill:#000;stroke:#000;stroke-width:0.22px;text-rendering:geometricPrecision" shape-rendering="geometricPrecision">MACD(12,26,9) 96.28 114.28</text><text transform="translate(9,722.5) scale(0.965,1)" style="font-family:'Liberation Sans', sans-serif;font-size:9.8px;fill:#000;stroke:#000;stroke-width:0.22px;text-rendering:geometricPrecision" shape-rendering="geometricPrecision">RSI(14) 58.8366</text><rect x="1619" y="31" width="41" height="11" fill="#ff0000"/><text transform="translate(1623,40) scale(0.93,1)" style="font-family:'Liberation Sans', sans-serif;font-size:9.8px;fill:#fff;stroke:#fff;stroke-width:0.22px;text-rendering:geometricPrecision" shape-rendering="geometricPrecision">27635.4</text><rect x="1619" y="59" width="41" height="11" fill="#ff0000"/><text transform="translate(1623,68) scale(0.93,1)" style="font-family:'Liberation Sans', sans-serif;font-size:9.8px;fill:#fff;stroke:#fff;stroke-width:0.22px;text-rendering:geometricPrecision" shape-rendering="geometricPrecision">27534.9</text><rect x="1619" y="91" width="41" height="11" fill="#000000"/><text transform="translate(1623,100) scale(0.93,1)" style="font-family:'Liberation Sans', sans-serif;font-size:9.8px;fill:#fff;stroke:#fff;stroke-width:0.22px;text-rendering:geometricPrecision" shape-rendering="geometricPrecision">27423.6</text><rect x="1619" y="106" width="41" height="11" fill="#ffa500"/><text transform="translate(1623,115) scale(0.93,1)" style="font-family:'Liberation Sans', sans-serif;font-size:9.8px;fill:#fff;stroke:#fff;stroke-width:0.22px;text-rendering:geometricPrecision" shape-rendering="geometricPrecision">27366.0</text><rect x="1619" y="137" width="41" height="11" fill="#0000ff"/><text transform="translate(1623,146) scale(0.93,1)" style="font-family:'Liberation Sans', sans-serif;font-size:9.8px;fill:#fff;stroke:#fff;stroke-width:0.22px;text-rendering:geometricPrecision" shape-rendering="geometricPrecision">27254.7</text><rect x="1619" y="166" width="41" height="11" fill="#0000ff"/><text transform="translate(1623,175) scale(0.93,1)" style="font-family:'Liberation Sans', sans-serif;font-size:9.8px;fill:#fff;stroke:#fff;stroke-width:0.22px;text-rendering:geometricPrecision" shape-rendering="geometricPrecision">27150.5</text><g id="toolbar"><rect x="0" y="0" width="1665" height="26" fill="#f0f0f0"/><rect x="0" y="0" width="1665" height="1" fill="#fcfcfc"/><rect x="0" y="25" width="1665" height="1" fill="#f8f8f8"/><defs><pattern id="chk" width="2" height="2" patternUnits="userSpaceOnUse"><rect width="2" height="2" fill="#fdfdfd"/><rect width="1" height="1" fill="#ececec"/><rect x="1" y="1" width="1" height="1" fill="#ececec"/></pattern><linearGradient id="gold" x1="0.2" y1="0" x2="0.6" y2="1"><stop offset="0" stop-color="#fff6b0"/><stop offset="0.45" stop-color="#f0c820"/><stop offset="1" stop-color="#d89a00"/></linearGradient><linearGradient id="blu" x1="0" y1="0" x2="0" y2="1"><stop offset="0" stop-color="#40a8ff"/><stop offset="1" stop-color="#0a78e0"/></linearGradient><linearGradient id="cloud" x1="0" y1="0" x2="0" y2="1"><stop offset="0" stop-color="#ffffff"/><stop offset="1" stop-color="#b8c4d8"/></linearGradient><radialGradient id="badge" cx="0.4" cy="0.3" r="0.7"><stop offset="0" stop-color="#f06040"/><stop offset="1" stop-color="#d02010"/></radialGradient><linearGradient id="yel" x1="0" y1="0" x2="0" y2="1"><stop offset="0" stop-color="#f8e060"/><stop offset="1" stop-color="#fff8a0"/></linearGradient></defs><rect x="0" y="8" width="2" height="16" fill="#d8d8d8"/><rect x="0" y="16" width="4" height="4" fill="#18c018"/><rect x="0" y="16" width="4" height="1" fill="#0a8a0a"/><rect x="0" y="19" width="4" height="1" fill="#0a8a0a"/><rect x="3" y="16" width="1" height="4" fill="#0a8a0a"/><text x="7" y="17.2" style="font-family:'Liberation Sans', 'Noto Sans CJK SC', sans-serif;font-size:12px;fill:#000;stroke:#000;stroke-width:0.25px;text-rendering:geometricPrecision" shape-rendering="geometricPrecision">新订单</text><g shape-rendering="geometricPrecision"><polygon points="60.5,7.3 70.6,14.1 71.1,16.4 63,21.6 55,15.8 55.4,14.5 59.3,10.6" fill="#c88a18" stroke="#9a5a08" stroke-width="1.1" stroke-linejoin="round"/><polygon points="60.8,8.3 69.7,14.3 63.2,19.2 56.2,14.6 59.8,11" fill="url(#gold)"/><polyline points="56.3,15.9 63.2,20.5 70.2,15.7" fill="none" stroke="#f4e4a8" stroke-width="0.9"/><polyline points="57.2,14.4 60.5,11.2 61,8.6" fill="none" stroke="#fff8c8" stroke-width="0.7"/></g><g shape-rendering="geometricPrecision"><rect x="85" y="6.5" width="11" height="9" rx="1" fill="url(#blu)" stroke="#1a70d0" stroke-width="0.8"/><polyline points="85.5,7 88.5,9 88.5,14" fill="none" stroke="#fff" stroke-width="0.9"/><line x1="90" y1="10.5" x2="94" y2="9.5" stroke="#fff" stroke-width="1"/><path d="M84.2,21.2 C82.4,21.2 82.4,17.9 84.6,17.7 C84.8,15.9 86.8,15.3 88.1,16.1 C88.6,13.6 92.6,13.1 94.1,15.1 C96,14.3 98,15.5 97.9,17.2 C99.6,17.5 99.6,21.2 97.6,21.2 Z" fill="url(#cloud)" stroke="#3a5a9a" stroke-width="0.9"/></g><defs><linearGradient id="sg" x1="0" y1="0" x2="1" y2="0.3"><stop offset="0" stop-color="#3a68d8"/><stop offset="0.55" stop-color="#a8c8e0"/><stop offset="1" stop-color="#2a8a4a"/></linearGradient><radialGradient id="sq" cx="0" cy="0" r="1" fx="0" fy="0" gradientUnits="objectBoundingBox"><stop offset="0" stop-color="#e8f4e8"/><stop offset="1" stop-color="#58b058"/></radialGradient></defs><g shape-rendering="geometricPrecision" fill="none"><path d="M119.2,14 L119.2,21.6 A7.6,7.6 0 0 0 126.8,14 Z" fill="url(#sq)" opacity="0.85"/><circle cx="119" cy="13.8" r="7.5" stroke="url(#sg)" stroke-width="1.3"/><circle cx="119" cy="13.8" r="4.6" stroke="url(#sg)" stroke-width="1.2"/><circle cx="119" cy="13.8" r="1.9" fill="#2050c0"/><line x1="119.2" y1="14.2" x2="119.2" y2="21.6" stroke="#20a020" stroke-width="1.7"/></g><g shape-rendering="geometricPrecision"><polygon points="138.5,13.5 153.6,13.5 145.5,21.3" fill="url(#yel)" stroke="#c8a010" stroke-width="0.8"/><ellipse cx="146" cy="10.5" rx="7.6" ry="2.6" fill="#60b0e8" stroke="#2a80b0" stroke-width="0.8"/><ellipse cx="145.5" cy="8.5" rx="3.6" ry="2.8" fill="#80c8f0" stroke="#2a80b0" stroke-width="0.8"/><circle cx="150.5" cy="17.6" r="4.1" fill="#e02010" stroke="#b01000" stroke-width="0.6"/><rect x="149" y="16.2" width="3" height="3" fill="#fff"/></g><text x="158.9" y="16.7" style="font-family:'Liberation Sans', 'Noto Sans CJK SC', sans-serif;font-size:11.9px;fill:#000;stroke:#000;stroke-width:0.25px;text-rendering:geometricPrecision" shape-rendering="geometricPrecision">自动交易</text><rect x="214" y="1" width="1" height="25" fill="#a0a0a0"/><rect x="215" y="1" width="1" height="25" fill="#ffffff"/><rect x="218" y="4" width="3" height="1" fill="#999"/><rect x="218" y="6" width="3" height="1" fill="#999"/><rect x="218" y="8" width="3" height="1" fill="#999"/><rect x="218" y="10" width="3" height="1" fill="#999"/><rect x="218" y="12" width="3" height="1" fill="#999"/><rect x="218" y="14" width="3" height="1" fill="#999"/><rect x="218" y="16" width="3" height="1" fill="#999"/><rect x="218" y="18" width="3" height="1" fill="#999"/><rect x="218" y="20" width="3" height="1" fill="#999"/><rect x="218" y="22" width="3" height="1" fill="#999"/><g shape-rendering="geometricPrecision"><line x1="232.4" y1="9" x2="232.4" y2="21.8" stroke="#555" stroke-width="1.5"/><polygon points="230.20000000000002,10.6 232.4,8 234.6,10.6" fill="#555"/><line x1="230" y1="19.5" x2="243" y2="19.5" stroke="#555" stroke-width="1.5"/><polygon points="240.6,17.3 243.6,19.5 240.6,21.7" fill="#555"/></g><g shape-rendering="geometricPrecision" stroke="#1a9a1a" stroke-width="1.4" fill="none"><line x1="238.4" y1="9.2" x2="238.4" y2="17.8"/><line x1="238.4" y1="10.4" x2="241" y2="10.4"/><line x1="235.8" y1="16.3" x2="238.4" y2="16.3"/></g><rect x="252" y="2" width="25" height="22" fill="url(#chk)"/><rect x="252" y="2" width="25" height="1" fill="#a0a0a0"/><rect x="252" y="2" width="1" height="22" fill="#a0a0a0"/><rect x="252" y="24" width="26" height="1" fill="#ffffff"/><rect x="277" y="2" width="1" height="23" fill="#ffffff"/><g shape-rendering="geometricPrecision"><line x1="260.5" y1="9" x2="260.5" y2="21.8" stroke="#555" stroke-width="1.5"/><polygon points="258.3,10.6 260.5,8 262.7,10.6" fill="#555"/><line x1="258" y1="19.5" x2="271.5" y2="19.5" stroke="#555" stroke-width="1.5"/><polygon points="269.1,17.3 272.1,19.5 269.1,21.7" fill="#555"/></g><g shape-rendering="geometricPrecision"><line x1="266.6" y1="6.2" x2="266.6" y2="17.8" stroke="#1a9a1a" stroke-width="1.4"/><rect x="264.5" y="8.6" width="4.2" height="7.2" fill="#6cec6c" stroke="#1a9a1a" stroke-width="1.1"/><rect x="265.4" y="9.6" width="1.2" height="5" fill="#b8f8b8"/></g><g shape-rendering="geometricPrecision"><line x1="288.4" y1="9" x2="288.4" y2="21.8" stroke="#555" stroke-width="1.5"/><polygon points="286.2,10.6 288.4,8 290.59999999999997,10.6" fill="#555"/><line x1="286" y1="19.5" x2="299.5" y2="19.5" stroke="#555" stroke-width="1.5"/><polygon points="297.1,17.3 300.1,19.5 297.1,21.7" fill="#555"/></g><path d="M287.3,16.6 C289.5,14 291,11 293.2,11.1 C295,11.2 296.5,14.2 298.6,15" fill="none" stroke="#2aa02a" stroke-width="1.2" shape-rendering="geometricPrecision"/><rect x="309" y="3" width="1" height="21" fill="#a0a0a0"/><rect x="310" y="3" width="1" height="21" fill="#ffffff"/><g shape-rendering="geometricPrecision"><line x1="328" y1="16" x2="333" y2="21" stroke="#b88a10" stroke-width="3.6" stroke-linecap="round"/><line x1="328" y1="16" x2="333" y2="21" stroke="#f0e060" stroke-width="2"/><circle cx="324" cy="12" r="5.4" fill="#dff1fb" stroke="#3a84c8" stroke-width="1.3"/><rect x="320.5" y="11" width="7" height="2" fill="#4a8ab8"/><rect x="323" y="8.5" width="2" height="7" fill="#4a8ab8"/></g><g shape-rendering="geometricPrecision"><line x1="356" y1="16" x2="361" y2="21" stroke="#b88a10" stroke-width="3.6" stroke-linecap="round"/><line x1="356" y1="16" x2="361" y2="21" stroke="#f0e060" stroke-width="2"/><circle cx="352" cy="12" r="5.4" fill="#dff1fb" stroke="#3a84c8" stroke-width="1.3"/><rect x="348.5" y="11" width="7" height="2" fill="#4a8ab8"/></g><rect x="374" y="6" width="8" height="8" fill="#34a818"/><rect x="374" y="6" width="8" height="1" fill="#1a8a0a"/><rect x="375" y="7" width="1" height="1" fill="#fff"/><rect x="375" y="9" width="6" height="3" fill="#fff"/><rect x="376" y="10" width="4" height="1" fill="#34a818" opacity="0.5"/><rect x="375" y="12" width="1" height="1" fill="#fff"/><rect x="380" y="12" width="1" height="1" fill="#fff"/><rect x="382" y="6" width="8" height="8" fill="#2060e0"/><rect x="382" y="6" width="8" height="1" fill="#1040b0"/><rect x="383" y="7" width="1" height="1" fill="#fff"/><rect x="383" y="9" width="6" height="3" fill="#fff"/><rect x="384" y="10" width="4" height="1" fill="#2060e0" opacity="0.5"/><rect x="383" y="12" width="1" height="1" fill="#fff"/><rect x="388" y="12" width="1" height="1" fill="#fff"/><rect x="374" y="14" width="8" height="8" fill="#2060e0"/><rect x="374" y="14" width="8" height="1" fill="#1040b0"/><rect x="375" y="15" width="1" height="1" fill="#fff"/><rect x="375" y="17" width="6" height="3" fill="#fff"/><rect x="376" y="18" width="4" height="1" fill="#2060e0" opacity="0.5"/><rect x="375" y="20" width="1" height="1" fill="#fff"/><rect x="380" y="20" width="1" height="1" fill="#fff"/><rect x="382" y="14" width="8" height="8" fill="#34a818"/><rect x="382" y="14" width="8" height="1" fill="#1a8a0a"/><rect x="383" y="15" width="1" height="1" fill="#fff"/><rect x="383" y="17" width="6" height="3" fill="#fff"/><rect x="384" y="18" width="4" height="1" fill="#34a818" opacity="0.5"/><rect x="383" y="20" width="1" height="1" fill="#fff"/><rect x="388" y="20" width="1" height="1" fill="#fff"/><rect x="399" y="3" width="1" height="21" fill="#a0a0a0"/><rect x="400" y="3" width="1" height="21" fill="#ffffff"/><rect x="404" y="2" width="25" height="22" fill="url(#chk)"/><rect x="404" y="2" width="25" height="1" fill="#a0a0a0"/><rect x="404" y="2" width="1" height="22" fill="#a0a0a0"/><rect x="404" y="24" width="26" height="1" fill="#ffffff"/><rect x="429" y="2" width="1" height="23" fill="#ffffff"/><g shape-rendering="geometricPrecision"><line x1="412.4" y1="9" x2="412.4" y2="21.8" stroke="#555" stroke-width="1.5"/><polygon points="410.2,10.6 412.4,8 414.59999999999997,10.6" fill="#555"/><line x1="410" y1="19.5" x2="423.5" y2="19.5" stroke="#555" stroke-width="1.5"/><polygon points="421.1,17.3 424.1,19.5 421.1,21.7" fill="#555"/></g><polygon points="417.5,10.5 417.5,16.5 421.5,13.5" fill="#8ae88a" stroke="#1a9a1a" stroke-width="1.2" shape-rendering="geometricPrecision"/><rect x="432" y="2" width="25" height="22" fill="url(#chk)"/><rect x="432" y="2" width="25" height="1" fill="#a0a0a0"/><rect x="432" y="2" width="1" height="22" fill="#a0a0a0"/><rect x="432" y="24" width="26" height="1" fill="#ffffff"/><rect x="457" y="2" width="1" height="23" fill="#ffffff"/><g shape-rendering="geometricPrecision"><line x1="440.4" y1="9" x2="440.4" y2="21.8" stroke="#555" stroke-width="1.5"/><polygon points="438.2,10.6 440.4,8 442.59999999999997,10.6" fill="#555"/><line x1="438" y1="19.5" x2="451.5" y2="19.5" stroke="#555" stroke-width="1.5"/><polygon points="449.1,17.3 452.1,19.5 449.1,21.7" fill="#555"/></g><rect x="446" y="8" width="1.5" height="10" fill="#1a6ab0"/><polygon points="447.5,13.5 450.5,11 450.5,16" fill="#e05010" shape-rendering="geometricPrecision"/><rect x="449" y="13" width="3.5" height="1.2" fill="#e05010"/><rect x="461" y="3" width="1" height="21" fill="#a0a0a0"/><rect x="462" y="3" width="1" height="21" fill="#ffffff"/><g shape-rendering="geometricPrecision"><path d="M471.5,7 L479.5,7 L482.5,10 L482.5,19.5 L471.5,19.5 Z" fill="#fff" stroke="#909090" stroke-width="1"/><path d="M475.5,9 Q474,9.5 474.3,12 Q474,14 475,16" fill="none" stroke="#705030" stroke-width="0.9"/><path d="M479,12.3 h3.6 v3.6 h3.6 v3.6 h-3.6 v3.6 h-3.6 v-3.6 h-3.6 v-3.6 h3.6 Z" fill="#3ae83a" stroke="#1a9a1a" stroke-width="0.9"/></g><polygon points="493,13 498.5,13 495.75,16" fill="#000" shape-rendering="geometricPrecision"/><defs><linearGradient id="clk" x1="0.2" y1="0" x2="0.8" y2="1"><stop offset="0" stop-color="#58b0f8"/><stop offset="0.5" stop-color="#1a78e0"/><stop offset="1" stop-color="#0a4ab0"/></linearGradient></defs><g shape-rendering="geometricPrecision"><circle cx="517" cy="13.8" r="7.9" fill="url(#clk)"/><circle cx="517" cy="13.8" r="5.6" fill="#fdfdfd"/><circle cx="517" cy="13.8" r="5.6" fill="none" stroke="#b8d0e8" stroke-width="0.5"/><circle cx="517.00" cy="9.20" r="0.35" fill="#888"/><circle cx="519.30" cy="9.82" r="0.35" fill="#888"/><circle cx="520.98" cy="11.50" r="0.35" fill="#888"/><circle cx="521.60" cy="13.80" r="0.35" fill="#888"/><circle cx="520.98" cy="16.10" r="0.35" fill="#888"/><circle cx="519.30" cy="17.78" r="0.35" fill="#888"/><circle cx="517.00" cy="18.40" r="0.35" fill="#888"/><circle cx="514.70" cy="17.78" r="0.35" fill="#888"/><circle cx="513.02" cy="16.10" r="0.35" fill="#888"/><circle cx="512.40" cy="13.80" r="0.35" fill="#888"/><circle cx="513.02" cy="11.50" r="0.35" fill="#888"/><circle cx="514.70" cy="9.82" r="0.35" fill="#888"/><polyline points="516.2,10.2 516.6,13.9 519.6,13.3" fill="none" stroke="#111" stroke-width="1.1"/><line x1="516" y1="17.4" x2="518.4" y2="17.4" stroke="#5aa0f0" stroke-width="0.7"/></g><polygon points="532,13 537.5,13 534.75,16" fill="#000" shape-rendering="geometricPrecision"/><g shape-rendering="geometricPrecision"><rect x="548.5" y="7.5" width="15" height="13" fill="#fff" stroke="#2a70c8" stroke-width="1"/><rect x="549" y="8" width="14" height="2" fill="#5a98e0"/><rect x="549" y="14" width="14" height="1" fill="#2a70c8"/><polyline points="550.5,13 553,12.5 555,11.5 557,12.5 560,11.5 562,11" fill="none" stroke="#a01010" stroke-width="1"/><polyline points="551,18.5 553,17.5 555,18.5 557,17 559,16.2 561,18.5" fill="none" stroke="#10a010" stroke-width="1"/></g><polygon points="571,13 576.5,13 573.75,16" fill="#000" shape-rendering="geometricPrecision"/><rect x="582" y="1" width="1" height="25" fill="#a0a0a0"/><rect x="583" y="1" width="1" height="25" fill="#ffffff"/><rect x="586" y="4" width="3" height="1" fill="#999"/><rect x="586" y="6" width="3" height="1" fill="#999"/><rect x="586" y="8" width="3" height="1" fill="#999"/><rect x="586" y="10" width="3" height="1" fill="#999"/><rect x="586" y="12" width="3" height="1" fill="#999"/><rect x="586" y="14" width="3" height="1" fill="#999"/><rect x="586" y="16" width="3" height="1" fill="#999"/><rect x="586" y="18" width="3" height="1" fill="#999"/><rect x="586" y="20" width="3" height="1" fill="#999"/><rect x="586" y="22" width="3" height="1" fill="#999"/><rect x="592" y="2" width="25" height="22" fill="url(#chk)"/><rect x="592" y="2" width="25" height="1" fill="#a0a0a0"/><rect x="592" y="2" width="1" height="22" fill="#a0a0a0"/><rect x="592" y="24" width="26" height="1" fill="#ffffff"/><rect x="617" y="2" width="1" height="23" fill="#ffffff"/><polygon points="600.2,6.9 608.2,14.5 604.7,14.7 606.7,20.3 605,21 603.2,15.8 600.2,18.2" fill="#4a4a4a" shape-rendering="geometricPrecision"/><rect x="625" y="14" width="7" height="2" fill="#4a4a4a"/><rect x="633" y="14" width="7" height="2" fill="#4a4a4a"/><rect x="632" y="7" width="2" height="7" fill="#4a4a4a"/><rect x="632" y="16" width="2" height="6" fill="#4a4a4a"/><rect x="649" y="3" width="1" height="21" fill="#a0a0a0"/><rect x="650" y="3" width="1" height="21" fill="#ffffff"/><rect x="666" y="8" width="2" height="13" fill="#4a4a4a"/><rect x="689" y="14" width="12" height="2" fill="#4a4a4a"/><line x1="717" y1="20.7" x2="729" y2="9" stroke="#4a4a4a" stroke-width="1.4" shape-rendering="geometricPrecision"/><g shape-rendering="geometricPrecision" stroke="#4a4a4a" stroke-width="1.2"><line x1="743" y1="15.5" x2="750.5" y2="8"/><line x1="745" y1="20" x2="756" y2="9"/><line x1="748" y1="20.5" x2="756.5" y2="12.5"/><line x1="745.5" y1="13" x2="744.5" y2="20"/><line x1="748.5" y1="10" x2="747.5" y2="17"/><line x1="751.5" y1="9" x2="750.5" y2="16"/><line x1="754.5" y1="6" x2="753.5" y2="14"/></g><text x="753.5" y="22.7" style="font-family:'Liberation Sans', sans-serif;font-size:7px;font-weight:bold;fill:#333" shape-rendering="geometricPrecision">E</text><rect x="772" y="7" width="1" height="1" fill="#4a4a4a"/><rect x="774" y="7" width="1" height="1" fill="#4a4a4a"/><rect x="776" y="7" width="1" height="1" fill="#4a4a4a"/><rect x="778" y="7" width="1" height="1" fill="#4a4a4a"/><rect x="780" y="7" width="1" height="1" fill="#4a4a4a"/><rect x="782" y="7" width="1" height="1" fill="#4a4a4a"/><rect x="784" y="7" width="1" height="1" fill="#4a4a4a"/><rect x="786" y="7" width="1" height="1" fill="#4a4a4a"/><rect x="772" y="10" width="1" height="1" fill="#4a4a4a"/><rect x="774" y="10" width="1" height="1" fill="#4a4a4a"/><rect x="776" y="10" width="1" height="1" fill="#4a4a4a"/><rect x="778" y="10" width="1" height="1" fill="#4a4a4a"/><rect x="780" y="10" width="1" height="1" fill="#4a4a4a"/><rect x="782" y="10" width="1" height="1" fill="#4a4a4a"/><rect x="784" y="10" width="1" height="1" fill="#4a4a4a"/><rect x="786" y="10" width="1" height="1" fill="#4a4a4a"/><rect x="772" y="14" width="1" height="1" fill="#4a4a4a"/><rect x="774" y="14" width="1" height="1" fill="#4a4a4a"/><rect x="776" y="14" width="1" height="1" fill="#4a4a4a"/><rect x="778" y="14" width="1" height="1" fill="#4a4a4a"/><rect x="780" y="14" width="1" height="1" fill="#4a4a4a"/><rect x="782" y="14" width="1" height="1" fill="#4a4a4a"/><rect x="784" y="14" width="1" height="1" fill="#4a4a4a"/><rect x="786" y="14" width="1" height="1" fill="#4a4a4a"/><rect x="772" y="18" width="1" height="1" fill="#4a4a4a"/><rect x="774" y="18" width="1" height="1" fill="#4a4a4a"/><rect x="776" y="18" width="1" height="1" fill="#4a4a4a"/><rect x="778" y="18" width="1" height="1" fill="#4a4a4a"/><rect x="780" y="18" width="1" height="1" fill="#4a4a4a"/><rect x="782" y="18" width="1" height="1" fill="#4a4a4a"/><text x="781.5" y="22.7" style="font-family:'Liberation Sans', sans-serif;font-size:7px;font-weight:bold;fill:#333" shape-rendering="geometricPrecision">F</text><text x="802.3" y="19" style="font-family:'Liberation Sans', sans-serif;font-size:13px;font-weight:bold;fill:#4a4a4a" shape-rendering="geometricPrecision">A</text><rect x="829" y="8" width="1" height="1" fill="#4a4a4a"/><rect x="829" y="20" width="1" height="1" fill="#4a4a4a"/><rect x="829" y="8" width="1" height="1" fill="#4a4a4a"/><rect x="841" y="8" width="1" height="1" fill="#4a4a4a"/><rect x="831" y="8" width="1" height="1" fill="#4a4a4a"/><rect x="831" y="20" width="1" height="1" fill="#4a4a4a"/><rect x="829" y="10" width="1" height="1" fill="#4a4a4a"/><rect x="841" y="10" width="1" height="1" fill="#4a4a4a"/><rect x="833" y="8" width="1" height="1" fill="#4a4a4a"/><rect x="833" y="20" width="1" height="1" fill="#4a4a4a"/><rect x="829" y="12" width="1" height="1" fill="#4a4a4a"/><rect x="841" y="12" width="1" height="1" fill="#4a4a4a"/><rect x="835" y="8" width="1" height="1" fill="#4a4a4a"/><rect x="835" y="20" width="1" height="1" fill="#4a4a4a"/><rect x="829" y="14" width="1" height="1" fill="#4a4a4a"/><rect x="841" y="14" width="1" height="1" fill="#4a4a4a"/><rect x="837" y="8" width="1" height="1" fill="#4a4a4a"/><rect x="837" y="20" width="1" height="1" fill="#4a4a4a"/><rect x="829" y="16" width="1" height="1" fill="#4a4a4a"/><rect x="841" y="16" width="1" height="1" fill="#4a4a4a"/><rect x="839" y="8" width="1" height="1" fill="#4a4a4a"/><rect x="839" y="20" width="1" height="1" fill="#4a4a4a"/><rect x="829" y="18" width="1" height="1" fill="#4a4a4a"/><rect x="841" y="18" width="1" height="1" fill="#4a4a4a"/><rect x="841" y="8" width="1" height="1" fill="#4a4a4a"/><rect x="841" y="20" width="1" height="1" fill="#4a4a4a"/><rect x="829" y="20" width="1" height="1" fill="#4a4a4a"/><rect x="841" y="20" width="1" height="1" fill="#4a4a4a"/><rect x="828" y="7" width="2" height="2" fill="#4a4a4a"/><rect x="831.5" y="10.5" width="7" height="2" fill="#4a4a4a"/><rect x="834" y="10.5" width="2" height="8" fill="#4a4a4a"/><g shape-rendering="geometricPrecision" fill="#4a4a4a"><polygon points="859.5,8 862.5,11 859.5,13 856.5,11"/><polygon points="866.8,15.5 869.8,18 866.8,21 863.8,18"/><polyline points="858.5,13.5 861,16.5 866,11" fill="none" stroke="#4a4a4a" stroke-width="1.5"/></g><polygon points="877,13 882.5,13 879.75,16" fill="#000" shape-rendering="geometricPrecision"/><rect x="888" y="1" width="1" height="25" fill="#a0a0a0"/><rect x="889" y="1" width="1" height="25" fill="#ffffff"/><rect x="892" y="4" width="3" height="1" fill="#999"/><rect x="892" y="6" width="3" height="1" fill="#999"/><rect x="892" y="8" width="3" height="1" fill="#999"/><rect x="892" y="10" width="3" height="1" fill="#999"/><rect x="892" y="12" width="3" height="1" fill="#999"/><rect x="892" y="14" width="3" height="1" fill="#999"/><rect x="892" y="16" width="3" height="1" fill="#999"/><rect x="892" y="18" width="3" height="1" fill="#999"/><rect x="892" y="20" width="3" height="1" fill="#999"/><rect x="892" y="22" width="3" height="1" fill="#999"/><rect x="1038" y="2" width="25" height="22" fill="url(#chk)"/><rect x="1038" y="2" width="25" height="1" fill="#a0a0a0"/><rect x="1038" y="2" width="1" height="22" fill="#a0a0a0"/><rect x="1038" y="24" width="26" height="1" fill="#ffffff"/><rect x="1063" y="2" width="1" height="23" fill="#ffffff"/><text x="903.3" y="18.1" textLength="13.2" lengthAdjust="spacingAndGlyphs" style="font-family:'Liberation Sans', sans-serif;font-size:9.9px;fill:#333;stroke:#333;stroke-width:0.2px;text-rendering:geometricPrecision" shape-rendering="geometricPrecision">M1</text><text x="931.2" y="18.1" textLength="13.4" lengthAdjust="spacingAndGlyphs" style="font-family:'Liberation Sans', sans-serif;font-size:9.9px;fill:#333;stroke:#333;stroke-width:0.2px;text-rendering:geometricPrecision" shape-rendering="geometricPrecision">M5</text><text x="957.4" y="18.1" textLength="18.1" lengthAdjust="spacingAndGlyphs" style="font-family:'Liberation Sans', sans-serif;font-size:9.9px;fill:#333;stroke:#333;stroke-width:0.2px;text-rendering:geometricPrecision" shape-rendering="geometricPrecision">M15</text><text x="985.1" y="18.1" textLength="18.4" lengthAdjust="spacingAndGlyphs" style="font-family:'Liberation Sans', sans-serif;font-size:9.9px;fill:#333;stroke:#333;stroke-width:0.2px;text-rendering:geometricPrecision" shape-rendering="geometricPrecision">M30</text><text x="1016.2" y="18.1" textLength="12.1" lengthAdjust="spacingAndGlyphs" style="font-family:'Liberation Sans', sans-serif;font-size:9.9px;fill:#333;stroke:#333;stroke-width:0.2px;text-rendering:geometricPrecision" shape-rendering="geometricPrecision">H1</text><text x="1042.9" y="18.1" textLength="13.5" lengthAdjust="spacingAndGlyphs" style="font-family:'Liberation Sans', sans-serif;font-size:9.9px;fill:#333;stroke:#333;stroke-width:0.2px;text-rendering:geometricPrecision" shape-rendering="geometricPrecision">H4</text><text x="1072.2" y="18.1" textLength="12.5" lengthAdjust="spacingAndGlyphs" style="font-family:'Liberation Sans', sans-serif;font-size:9.9px;fill:#333;stroke:#333;stroke-width:0.2px;text-rendering:geometricPrecision" shape-rendering="geometricPrecision">D1</text><text x="1099.7" y="18.1" textLength="14.7" lengthAdjust="spacingAndGlyphs" style="font-family:'Liberation Sans', sans-serif;font-size:9.9px;fill:#333;stroke:#333;stroke-width:0.2px;text-rendering:geometricPrecision" shape-rendering="geometricPrecision">W1</text><text x="1126.2" y="18.1" textLength="15.7" lengthAdjust="spacingAndGlyphs" style="font-family:'Liberation Sans', sans-serif;font-size:9.9px;fill:#333;stroke:#333;stroke-width:0.2px;text-rendering:geometricPrecision" shape-rendering="geometricPrecision">MN</text><rect x="1149" y="1" width="1" height="25" fill="#a0a0a0"/><rect x="1150" y="1" width="1" height="25" fill="#ffffff"/><g shape-rendering="geometricPrecision"><circle cx="1619.5" cy="11.3" r="4.1" fill="#fafaff" stroke="#2060d0" stroke-width="1.4"/><line x1="1616.6" y1="14.4" x2="1612.4" y2="18.8" stroke="#2060d0" stroke-width="2.8" stroke-linecap="round"/></g><g shape-rendering="geometricPrecision"><path d="M1641.5,11.5 C1637,11.5 1636,14 1636,16.3 C1636,18.5 1637.5,20 1639.5,20.3 L1639.5,22.6 L1641.5,20.5 L1646,20.5 C1648,20.5 1648,18 1648,16 C1648,13 1646,11.5 1641.5,11.5 Z" fill="#e4e6f0" stroke="#a8a8a8" stroke-width="0.8"/><circle cx="1650.6" cy="11.4" r="8.2" fill="url(#badge)"/><text x="1649.8" y="16.2" text-anchor="middle" style="font-family:'Liberation Serif',serif;font-size:12.5px;font-weight:bold;fill:#fff">1</text></g><rect x="0" y="26" width="1664" height="1" fill="#a0a0a0"/><rect x="1" y="27" width="1662" height="1" fill="#696969"/></g></svg>

</body></html>
